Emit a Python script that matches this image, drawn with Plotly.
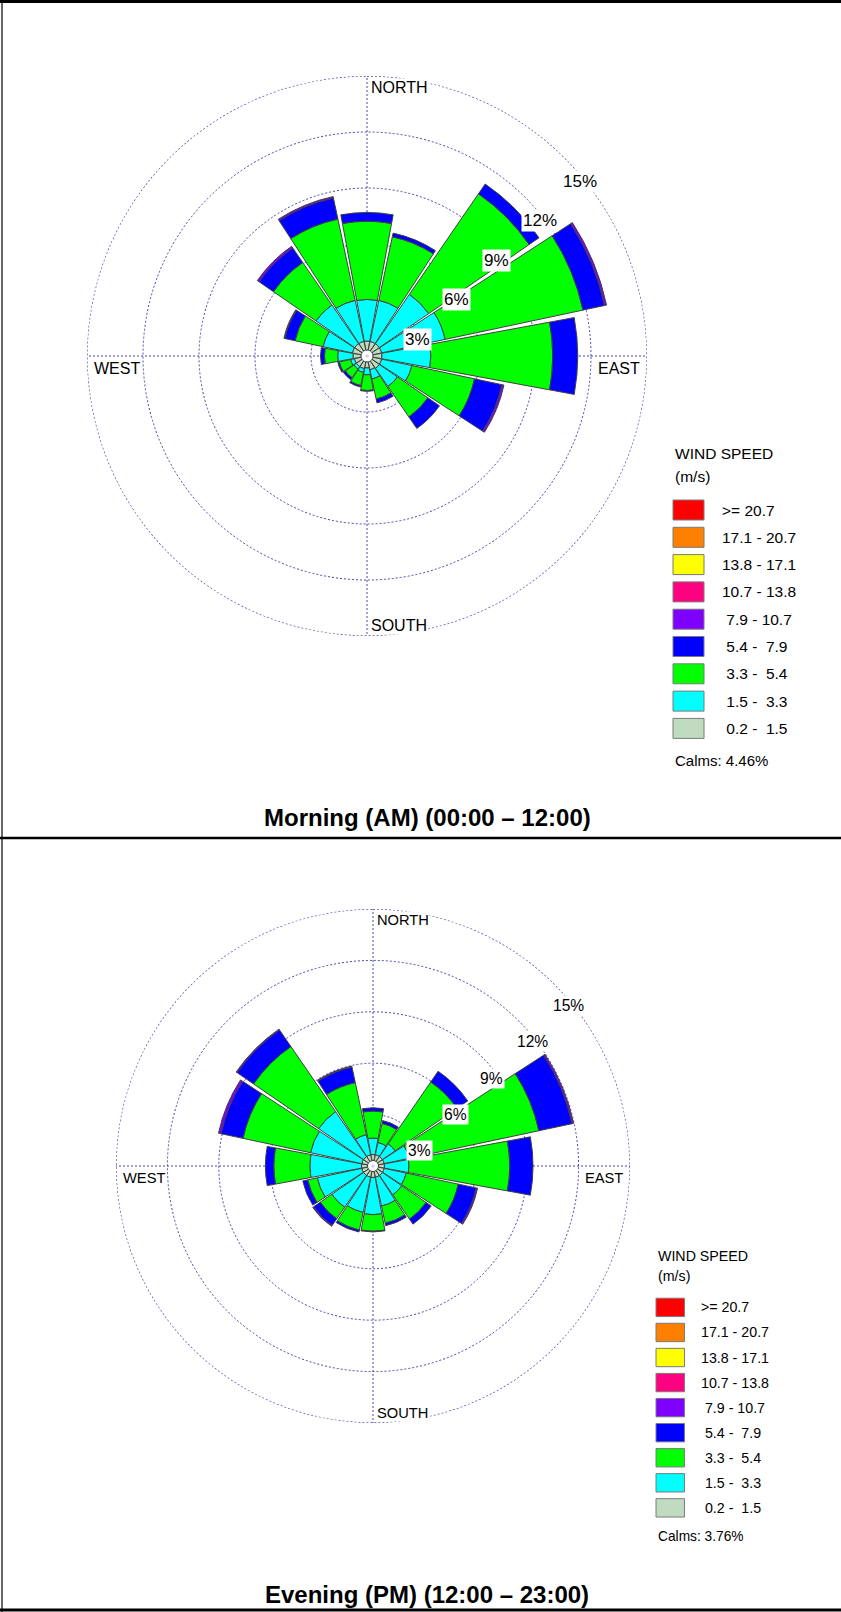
import math
import plotly.graph_objects as go

# ---------------- data ----------------
directions = ["N", "NNE", "NE", "ENE", "E", "ESE", "SE", "SSE",
              "S", "SSW", "SW", "WSW", "W", "WNW", "NW", "NNW"]
speed_bins = ["0.2 - 1.5", "1.5 - 3.3", "3.3 - 5.4", "5.4 - 7.9", "7.9 - 10.7",
              "10.7 - 13.8", "13.8 - 17.1", "17.1 - 20.7", ">= 20.7"]
legend_text = [">= 20.7", "17.1 - 20.7", "13.8 - 17.1", "10.7 - 13.8",
               "\u00a07.9 - 10.7", "\u00a05.4 -\u00a0\u00a07.9", "\u00a03.3 -\u00a0\u00a05.4",
               "\u00a01.5 -\u00a0\u00a03.3", "\u00a00.2 -\u00a0\u00a01.5"]
ring_values = [3, 6, 9, 12, 15]
ring_labels = ["3%", "6%", "9%", "12%", "15%"]
compass_labels = ["NORTH", "EAST", "SOUTH", "WEST"]
titles = ["Morning (AM) (00:00 \u2013 12:00)", "Evening (PM) (12:00 \u2013 23:00)"]
calms = [4.46, 3.76]

# Morning frequencies (%) per direction, per speed class
am_0_2_1_5 = [0.48, 0.48, 0.48, 0.48, 0.48, 0.48, 0.48, 0.43, 0.32, 0.37, 0.37, 0.37, 0.43, 0.48, 0.48, 0.48]
am_1_5_3_3 = [2.23, 2.25, 3.21, 3.48, 2.62, 1.66, 1.18, 0.51, 0.37, 0.21, 0.16, 0.21, 0.82, 1.61, 2.52, 2.25]
am_3_3_5_4 = [4.19, 3.48, 6.53, 7.55, 6.53, 3.43, 1.98, 1.10, 0.84, 0.72, 0.56, 0.62, 0.71, 1.53, 2.76, 4.45]
am_5_4_7_9 = [0.47, 0.20, 0.64, 1.18, 1.34, 1.50, 0.75, 0.21, 0.04, 0.08, 0.13, 0.08, 0.21, 0.56, 0.94, 1.15]
am_7_9_10_7 = [0, 0, 0, 0.11, 0, 0.11, 0, 0, 0, 0, 0, 0, 0, 0.05, 0.11, 0.08]

# Evening frequencies (%)
pm_0_2_1_5 = [0.35, 0.35, 0.35, 0.35, 0.35, 0.35, 0.35, 0.35, 0.35, 0.35, 0.35, 0.35, 0.35, 0.35, 0.35, 0.35]
pm_1_5_3_3 = [0.96, 0.73, 0.90, 1.49, 1.43, 1.31, 1.37, 1.72, 2.17, 2.10, 2.25, 2.66, 3.02, 3.06, 3.18, 1.20]
pm_3_3_5_4 = [1.58, 1.14, 4.38, 7.74, 5.88, 3.11, 1.72, 1.02, 0.97, 1.05, 0.82, 0.57, 2.10, 4.03, 4.61, 3.11]
pm_5_4_7_9 = [0.19, 0.17, 0.76, 1.98, 1.36, 1.07, 0.36, 0.15, 0.04, 0.12, 0.47, 0.29, 0.49, 1.31, 1.17, 0.92]
pm_7_9_10_7 = [0, 0, 0, 0.09, 0, 0.08, 0, 0, 0, 0, 0.06, 0, 0, 0.15, 0.06, 0.06]

am_series = [am_0_2_1_5, am_1_5_3_3, am_3_3_5_4, am_5_4_7_9, am_7_9_10_7]
pm_series = [pm_0_2_1_5, pm_1_5_3_3, pm_3_3_5_4, pm_5_4_7_9, pm_7_9_10_7]

# ---------------- style ----------------
W, H = 841, 1612
FONT = "Liberation Sans, Arial, sans-serif"
BIN_COLORS = ["#C0DCC0", "#00FFFF", "#00FF00", "#0000FF", "#8000FF",
              "#FF0080", "#FFFF00", "#FF8000", "#FF0000"]
GRID = "#4646ac"
OUTLINE = "#404040"
HOLE_R = 0.32          # radius of the white calm circle, in radial units
PETAL_WIDTH = 21.0     # degrees
DASH = "2px,2px"

panels = [
    dict(cx=367, cy=356, R=280, lx=673, ly=454, ty=818, name="polar"),
    dict(cx=373, cy=1166, R=257, lx=656, ly=1256, ty=1594, name="polar2"),
]


def px2paper(x, y):
    return x / W, 1 - y / H


theta = [i * 360.0 / len(directions) for i in range(len(directions))]
circle_theta = [float(a) for a in range(0, 361)]

fig = go.Figure()
annotations = []
shapes = []
layout_polars = {}

for p_idx, (panel, series) in enumerate(zip(panels, [am_series, pm_series])):
    cx, cy, R = panel["cx"], panel["cy"], panel["R"]
    s = R / 280.0
    sub = panel["name"]

    # outer dotted ring (15 %)
    fig.add_trace(go.Scatterpolar(
        r=[ring_values[-1]] * len(circle_theta), theta=circle_theta, mode="lines",
        line=dict(color=GRID, width=1.3, dash=DASH), showlegend=False,
        hoverinfo="skip", cliponaxis=False, subplot=sub))

    # white calm circle at the centre (stack base)
    fig.add_trace(go.Barpolar(
        r=[HOLE_R] * len(directions), theta=theta, width=[360.0 / len(directions)] * len(directions),
        marker=dict(color="white", line=dict(width=0)), showlegend=False,
        hoverinfo="skip", subplot=sub))

    for b_idx, vals in enumerate(series):
        rr = [v if v > 0 else None for v in vals]
        fig.add_trace(go.Barpolar(
            r=rr, theta=theta, width=[PETAL_WIDTH] * len(directions),
            name=speed_bins[b_idx],
            marker=dict(color=BIN_COLORS[b_idx], line=dict(color=OUTLINE, width=1)),
            showlegend=False, subplot=sub))

    x0, y1 = px2paper(cx - R, cy - R)
    x1, y0 = px2paper(cx + R, cy + R)
    layout_polars[sub] = dict(
        domain=dict(x=[x0, x1], y=[y0, y1]),
        bgcolor="white",
        barmode="stack",
        radialaxis=dict(range=[0, 15], tickvals=ring_values, showticklabels=False, ticks="",
                        showline=False, showgrid=True, gridcolor=GRID, gridwidth=1,
                        griddash=DASH),
        angularaxis=dict(rotation=90, direction="clockwise", tickvals=[0, 90, 180, 270],
                         showticklabels=False, ticks="", showline=False, showgrid=True,
                         gridcolor=GRID, gridwidth=1, griddash=DASH),
    )

    # ring percentage labels
    for v, lab in zip(ring_values, ring_labels):
        rpx = v / 15.0 * R
        ax = cx + rpx * math.cos(math.radians(45)) - 4 * s
        ay = cy - rpx * math.sin(math.radians(45)) + 23 * s
        xp, yp = px2paper(ax, ay)
        annotations.append(dict(x=xp, y=yp, xref="paper", yref="paper", text=lab,
                                showarrow=False, xanchor="left", yanchor="middle",
                                bgcolor="white", borderpad=1,
                                font=dict(family=FONT, size=17 * s, color="black")))

    # compass labels
    comp_pos = [
        (cx + 3 * s, cy - R + 12 * s, "left"),
        (cx + R - 6 * s, cy + 13 * s, "right"),
        (cx + 3 * s, cy + R - 11 * s, "left"),
        (cx - R + 6 * s, cy + 13 * s, "left"),
    ]
    for lab, (ax, ay, anc) in zip(compass_labels, comp_pos):
        xp, yp = px2paper(ax, ay)
        annotations.append(dict(x=xp, y=yp, xref="paper", yref="paper", text=lab,
                                showarrow=False, xanchor=anc, yanchor="middle",
                                bgcolor="white", borderpad=0,
                                font=dict(family=FONT, size=16 * s, color="black")))

    # legend
    lx, ly = panel["lx"], panel["ly"]
    fs = 15.5 * s
    for txt, dy in [("WIND SPEED", 0), ("(m/s)", 22)]:
        xp, yp = px2paper(lx, ly + dy * s)
        annotations.append(dict(x=xp, y=yp, xref="paper", yref="paper", text=txt,
                                showarrow=False, xanchor="left", yanchor="middle",
                                font=dict(family=FONT, size=fs, color="black")))
    for i, txt in enumerate(legend_text):
        col = BIN_COLORS[len(BIN_COLORS) - 1 - i]
        top = ly + 46 * s + i * 27.3 * s
        bx0, by0 = px2paper(lx, top + 20 * s)
        bx1, by1 = px2paper(lx + 31 * s, top)
        shapes.append(dict(type="rect", xref="paper", yref="paper", x0=bx0, x1=bx1,
                           y0=by0, y1=by1, fillcolor=col,
                           line=dict(color="#7a7a7a", width=1)))
        xp, yp = px2paper(lx + 47 * s, top + 10 * s)
        annotations.append(dict(x=xp, y=yp, xref="paper", yref="paper", text=txt,
                                showarrow=False, xanchor="left", yanchor="middle",
                                font=dict(family=FONT, size=fs, color="black")))
    xp, yp = px2paper(lx, ly + 306 * s)
    annotations.append(dict(x=xp, y=yp, xref="paper", yref="paper",
                            text="Calms:\u00a0%.2f%%" % calms[p_idx],
                            showarrow=False, xanchor="left", yanchor="middle",
                            font=dict(family=FONT, size=15 * s, color="black")))

    # panel title
    xp, yp = px2paper(427, panel["ty"])
    annotations.append(dict(x=xp, y=yp, xref="paper", yref="paper",
                            text="<b>%s</b>" % titles[p_idx], showarrow=False,
                            xanchor="center", yanchor="middle",
                            font=dict(family=FONT, size=24, color="black")))

# frame lines
for yline, wline in [(1.5, 3), (838, 2.5), (1610, 3)]:
    _, yp = px2paper(0, yline)
    shapes.append(dict(type="line", xref="paper", yref="paper", x0=0, x1=1, y0=yp, y1=yp,
                       line=dict(color="black", width=wline)))
shapes.append(dict(type="line", xref="paper", yref="paper", x0=2 / W, x1=2 / W, y0=0, y1=1,
                   line=dict(color="black", width=1.2)))

fig.update_layout(
    width=W, height=H, margin=dict(l=0, r=0, t=0, b=0),
    paper_bgcolor="white", plot_bgcolor="white",
    showlegend=False, annotations=annotations, shapes=shapes,
    **layout_polars,
)

fig.write_html("out.html", config={"displayModeBar": False},
               post_script="document.body.style.margin='0';")
